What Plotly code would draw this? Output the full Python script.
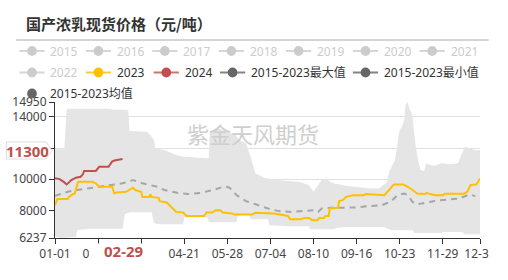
import datetime as dt
import plotly.graph_objects as go

BASE = dt.date(2024, 1, 1)

# ---- data (x = days since 01-01, y = yuan/ton) ----
days_2024 = [0, 4, 8, 10, 12, 14, 18, 22, 24, 25, 35, 38, 46, 49, 51, 56, 58]
vals_2024 = [10060, 10010, 9800, 9670, 9800, 9950, 10100, 10160, 10320, 10530,
             10530, 10800, 10800, 11130, 11200, 11250, 11300]

days_2023 = [0, 2, 11, 12, 14, 17, 19, 20, 32, 35, 38, 49, 51, 53, 61, 64, 67, 69,
             74, 75, 81, 82, 83, 89, 90, 96, 100, 104, 110, 113, 128, 130, 135, 138,
             142, 144, 152, 154, 169, 172, 188, 200, 202, 211, 214, 218, 221, 225,
             227, 231, 232, 235, 236, 243, 244, 247, 250, 256, 265, 267, 283, 289,
             291, 299, 303, 307, 311, 318, 319, 322, 327, 333, 335, 351, 354, 357,
             362, 365]
vals_2023 = [8340, 8730, 8730, 8870, 8980, 9090, 9630, 9840, 9840, 9740, 9520, 9520,
             9090, 9160, 9200, 9310, 9450, 9310, 9200, 8870, 8870, 9030, 8870, 8810,
             8600, 8510, 8230, 7910, 7870, 7650, 7650, 7870, 7870, 8020, 8020, 7870,
             7810, 7740, 7740, 7850, 7810, 7650, 7440, 7440, 7520, 7520, 7380, 7380,
             7520, 7520, 7650, 7650, 8130, 8170, 8600, 8660, 8870, 8980, 8980, 9050,
             8980, 9520, 9670, 9670, 9520, 9310, 9090, 9050, 9130, 9050, 8980, 8980,
             9070, 9070, 9200, 9630, 9670, 10040]

days_mean = [0, 11, 19, 28, 36, 47, 58, 64, 67, 75, 83, 88, 94, 105, 114, 125, 136,
             146, 150, 156, 164, 172, 179, 183, 192, 203, 214, 222, 226, 229, 237,
             247, 258, 269, 281, 289, 294, 300, 303, 307, 311, 319, 331, 342, 347,
             356, 361]
vals_mean = [8940, 9200, 9310, 9410, 9520, 9630, 9740, 9880, 9950, 9740, 9630, 9520,
             9310, 9130, 9050, 9130, 9310, 9560, 9450, 8980, 8600, 8390, 8230, 8130,
             7960, 7910, 7970, 8020, 7910, 8130, 8170, 8170, 8190, 8280, 8340, 8600,
             8980, 9090, 8980, 8550, 8390, 8510, 8660, 8730, 8760, 9030, 8920]

days_max = [0, 8, 10, 48, 49, 61, 63, 64, 79, 82, 85, 86, 94, 100, 104, 110, 132,
            133, 140, 155, 158, 164, 168, 172, 180, 195, 210, 218, 222, 226, 229,
            233, 237, 242, 250, 258, 270, 278, 282, 285, 287, 292, 294, 296, 298,
            300, 301, 303, 304, 307, 308, 310, 312, 314, 317, 319, 322, 326, 332,
            339, 346, 349, 352, 356, 360, 365]
vals_max = [11920, 11920, 14510, 14510, 14450, 14450, 14390, 13100, 13050, 12840,
            12520, 11990, 11880, 11670, 11560, 11450, 11340, 13050, 13270, 12840,
            12520, 12310, 11450, 10380, 10080, 9920, 9820, 9630, 9200, 9630, 9950,
            10060, 9800, 9690, 9580, 9520, 9410, 9410, 9630, 9800, 10480, 11230,
            12200, 13160, 13380, 13810, 14770, 14950, 14560, 14130, 13270, 11990,
            11130, 10590, 10530, 11020, 10910, 10870, 11020, 10960, 11020, 11560,
            12090, 11990, 11880, 11880]

days_min = [0, 5, 18, 19, 29, 58, 60, 64, 83, 85, 90, 110, 111, 131, 132, 156, 157,
            167, 168, 183, 184, 200, 218, 219, 240, 242, 250, 283, 285, 289, 307,
            309, 332, 333, 350, 352, 365]
vals_min = [6330, 6237, 6300, 6730, 6830, 6830, 7760, 7890, 7890, 7180, 7120, 7120,
            7570, 7570, 7250, 7250, 7760, 7760, 7440, 7440, 7060, 6990, 6990, 6800,
            6800, 6900, 6940, 6940, 6840, 6730, 6730, 6560, 6560, 6620, 6620, 6480,
            6480]

tick_days = [0, 37, 74, 111, 148, 185, 222, 259, 296, 333, 365]
y_ticks = [6237, 8000, 10000, 12000, 14000, 14950]

legend_rows = [
    ["2015", "2016", "2017", "2018", "2019", "2020", "2021"],
    ["2022", "2023", "2024", "2015-2023最大值", "2015-2023最小值"],
    ["2015-2023均值"],
]
legend_colors = {"2023": "#FFC000", "2024": "#C0504D", "2015-2023最大值": "#666666",
                 "2015-2023最小值": "#666666", "2015-2023均值": "#666666"}

current_day_label = "02-29"
current_price = 11300

# ---- geometry helpers ----
W, H = 508, 280
L, R, T, B = 50, 20, 102, 42
PW, PH = W - L - R, H - T - B


def px(x):
    return (x - L) / PW


def py(y):
    return (H - B - y) / PH


def to_dates(days):
    return [BASE + dt.timedelta(days=d) for d in days]


FONT = "Noto Sans, Noto Sans CJK SC, sans-serif"
CJK = "Noto Sans CJK SC, Noto Sans, sans-serif"

fig = go.Figure()

# min / max envelope
fig.add_trace(go.Scatter(x=to_dates(days_min), y=vals_min, mode="lines",
                         line=dict(width=0, color="rgba(0,0,0,0)"),
                         showlegend=False, hoverinfo="skip"))
fig.add_trace(go.Scatter(x=to_dates(days_max), y=vals_max, mode="lines",
                         line=dict(width=0, color="rgba(0,0,0,0)"),
                         fill="tonexty", fillcolor="#e5e5e5",
                         showlegend=False, hoverinfo="skip"))
# average
fig.add_trace(go.Scatter(x=to_dates(days_mean), y=vals_mean, mode="lines",
                         line=dict(color="#a6a6a6", width=2, dash="6px,5px"),
                         showlegend=False))
# 2023
fig.add_trace(go.Scatter(x=to_dates(days_2023), y=vals_2023, mode="lines",
                         line=dict(color="#FFC000", width=2), showlegend=False))
# 2024
fig.add_trace(go.Scatter(x=to_dates(days_2024), y=vals_2024, mode="lines",
                         line=dict(color="#C0504D", width=2), showlegend=False))

shapes = []
annotations = []

# title and rule under it
annotations.append(dict(x=px(18), y=py(23), xref="paper", yref="paper",
                        xanchor="left", yanchor="middle", showarrow=False,
                        text="<b>国产浓乳现货价格（元/吨）</b>",
                        font=dict(family=CJK, size=15, color="#333333")))
shapes.append(dict(type="line", xref="paper", yref="paper",
                   x0=px(10), x1=px(497), y0=py(40), y1=py(40),
                   line=dict(color="#aaaaaa", width=1)))

# hand-laid legend
row_y = [51, 72.5, 93.5]
row_x = [
    [13.3, 81.7, 150.2, 218.8, 288.0, 357.0, 425.7],
    [13.3, 81.7, 151.7, 220.0, 357.0],
    [13.3],
]
for r, names in enumerate(legend_rows):
    for i, name in enumerate(names):
        x0 = row_x[r][i]
        yy = row_y[r]
        col = legend_colors.get(name, "#cccccc")
        txt_col = "#333333" if name in legend_colors else "#cccccc"
        if name != "2015-2023均值":
            shapes.append(dict(type="line", xref="paper", yref="paper",
                               x0=px(x0), x1=px(x0 + 26), y0=py(yy), y1=py(yy),
                               line=dict(color=col, width=2), opacity=0.8))
        shapes.append(dict(type="circle", xref="paper", yref="paper",
                           x0=px(x0 + 8), x1=px(x0 + 18),
                           y0=py(yy - 5), y1=py(yy + 5),
                           fillcolor=col, line=dict(width=0), layer="above"))
        annotations.append(dict(x=px(x0 + 30), y=py(yy), xref="paper", yref="paper",
                                xanchor="left", yanchor="middle", showarrow=False,
                                text=name, font=dict(family=FONT, size=12, color=txt_col)))

# watermark
annotations.append(dict(x=px(254), y=py(133), xref="paper", yref="paper",
                        xanchor="center", yanchor="middle", showarrow=False,
                        text="紫金天风期货",
                        font=dict(family=CJK, size=22, color="#cfcfcf")))

# current price tag on the y axis
tag = [(0, 142), (41, 142), (47, 150.5), (41, 159), (0, 159)]
path = "M " + " L ".join(f"{px(a):.5f},{py(b):.5f}" for a, b in tag) + " Z"
shapes.append(dict(type="path", xref="paper", yref="paper", path=path,
                   fillcolor="white", line=dict(color="#dddddd", width=1), layer="above"))
annotations.append(dict(x=0, xref="paper", y=current_price, yref="y",
                        xshift=-28, yshift=8, xanchor="center", yanchor="middle",
                        showarrow=False, text=f"<b>{current_price}</b>",
                        font=dict(family=FONT, size=15, color="#C0504D")))

# current date label on the x axis
shapes.append(dict(type="rect", xref="paper", yref="paper",
                   x0=px(85), x1=px(156), y0=py(243.5), y1=py(259),
                   fillcolor="white", line=dict(width=0), layer="above"))
annotations.append(dict(x=BASE + dt.timedelta(days=59), xref="x", y=py(250.5), yref="paper",
                        xanchor="center", yanchor="middle", showarrow=False,
                        text=f"<b>{current_day_label}</b>",
                        font=dict(family=FONT, size=15, color="#C0504D")))

# right edge of the canvas
shapes.append(dict(type="rect", xref="paper", yref="paper",
                   x0=px(497), x1=px(510), y0=py(243), y1=py(262),
                   fillcolor="white", line=dict(width=0), layer="above"))

tick_dates = to_dates(tick_days)
fig.update_layout(
    width=W, height=H,
    margin=dict(l=L, r=R, t=T, b=B, pad=0),
    paper_bgcolor="white", plot_bgcolor="white",
    showlegend=False,
    shapes=shapes, annotations=annotations,
    xaxis=dict(type="date", range=[BASE, BASE + dt.timedelta(days=365)],
               tickvals=tick_dates, ticktext=[d.strftime("%m-%d") for d in tick_dates],
               ticks="outside", ticklen=5, tickcolor="#333333", showgrid=False,
               showline=True, linecolor="#333333", linewidth=1, zeroline=False,
               tickfont=dict(family=FONT, size=12, color="#444444")),
    yaxis=dict(range=[6237, 14950], tickvals=y_ticks, ticktext=[str(v) for v in y_ticks],
               ticks="outside", ticklen=5, tickcolor="#333333",
               showgrid=True, gridcolor="#e0e0e0", gridwidth=1,
               showline=True, linecolor="#333333", linewidth=1, zeroline=False,
               tickfont=dict(family=FONT, size=12, color="#444444")),
)

fig.write_html("out.html")
